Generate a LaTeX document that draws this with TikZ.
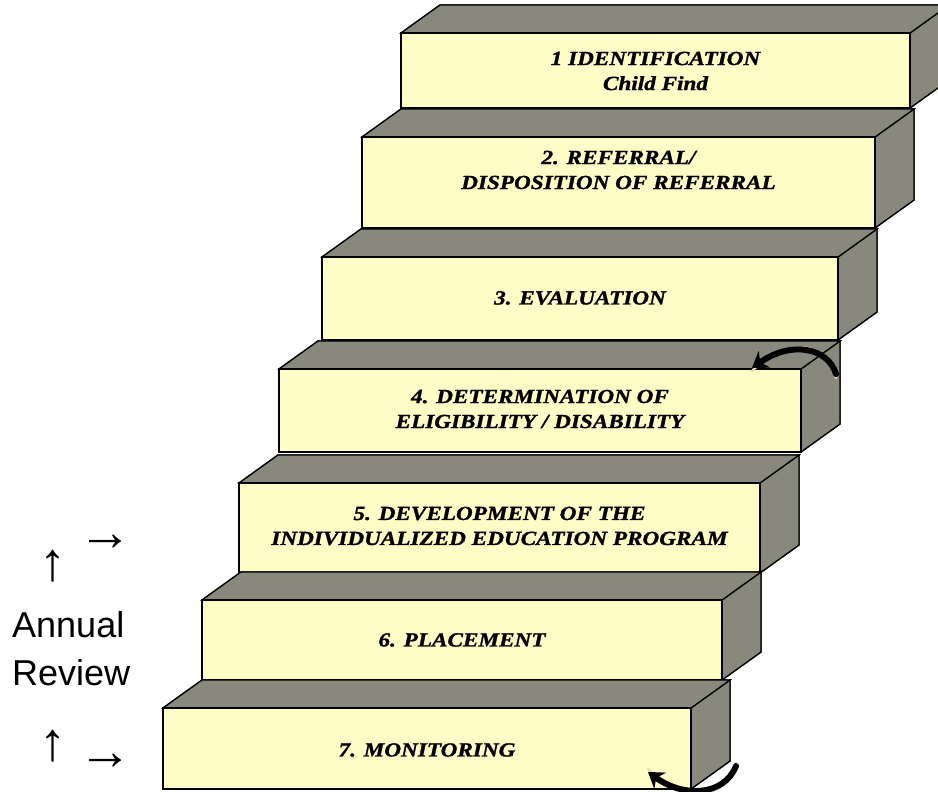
\documentclass[tikz,border=0pt]{standalone}
\usepackage{fontspec}
\setmainfont{Liberation Serif}
\newfontfamily\stepfont{Liberation Serif}[FakeStretch=1.16, FakeBold=1.3]
\newfontfamily\sansfnt{Liberation Sans}
\usetikzlibrary{arrows.meta}
\definecolor{facey}{RGB}{255,253,198}
\definecolor{faceg}{RGB}{136,136,124}
\definecolor{curlhi}{RGB}{238,218,165}
\tikzset{
  frontface/.style={fill=facey, draw=black, line width=1.3pt, line join=miter},
  sideface/.style={fill=faceg, draw=black, line width=1.3pt, line join=miter},
  steptext/.style={font=\stepfont\bfseries\itshape\fontsize{20}{25}\selectfont, align=center, text=black, inner sep=0pt},
  sidelabel/.style={font=\sansfnt\fontsize{36}{48}\selectfont, align=left, inner sep=0pt, anchor=base west},
  arrowglyph/.style={font=\sansfnt\fontsize{54}{58}\selectfont, inner sep=0pt},
  curlbody/.style={line width=6pt, black, line cap=round},
  curlhigh/.style={line width=2.4pt, curlhi, line cap=round},
}
% #1 name, #2 L, #3 R, #4 T, #5 B, #6 text y, #7 text
\newcommand\drawstairstep[7]{%
  \fill[sideface] ({#2},{#4}) -- ({#2+39},{#4-28}) -- ({#3+39},{#4-28}) -- ({#3},{#4}) -- cycle;
  \fill[sideface] ({#3},{#4}) -- ({#3+39},{#4-28}) -- ({#3+39},{#5-28}) -- ({#3},{#5}) -- cycle;
  \draw[sideface] ({#2},{#4}) -- ({#2+39},{#4-28}) -- ({#3+39},{#4-28}) -- ({#3},{#4});
  \draw[sideface] ({#3+39},{#4-28}) -- ({#3+39},{#5-28}) -- ({#3},{#5});
  \draw[frontface] ({#2},{#4}) rectangle ({#3},{#5});
  \node[steptext] (#1) at ({(#2+#3)/2},{#6}) {#7};
}
\begin{document}
\begin{tikzpicture}[x=1pt, y=-1pt]
\useasboundingbox (0,0) rectangle (938,792);
\clip (0,0) rectangle (938,792);
\drawstairstep{s1}{401}{910}{33}{108}{71}{1 IDENTIFICATION\\Child Find}
\drawstairstep{s2}{362}{875}{137}{228}{170}{2. REFERRAL/\\DISPOSITION OF REFERRAL}
\drawstairstep{s3}{322}{838}{257}{340}{298}{3. EVALUATION}
\drawstairstep{s4}{279}{801}{369}{452}{409}{4. DETERMINATION OF\\ELIGIBILITY / DISABILITY}
\drawstairstep{s5}{239}{760}{483}{573}{526}{5. DEVELOPMENT OF THE\\INDIVIDUALIZED EDUCATION PROGRAM}
\drawstairstep{s6}{202}{722}{600}{680}{640}{6. PLACEMENT}
\drawstairstep{s7}{163}{691}{708}{789}{750}{7. MONITORING}

% curled arrow near step 3/4
\coordinate (c1tail) at (836,374);
\coordinate (c1head) at (752,368);
\draw[curlhigh] ([yshift=-4pt]c1tail) .. controls (826,342) and (790,335) .. ([yshift=-3pt]c1head);
\draw[curlbody, -{Stealth[length=15pt,width=20pt]}] (c1tail) .. controls (828,348) and (792,340) .. (c1head);

% curled arrow at bottom
\coordinate (c2tail) at (736,766);
\coordinate (c2head) at (648,772);
\draw[curlhigh] ([yshift=3pt]c2tail) .. controls (722,800) and (680,800) .. ([yshift=3pt]c2head);
\draw[curlbody, -{Stealth[length=15pt,width=20pt]}] (c2tail) .. controls (724,796) and (684,798) .. (c2head);

% left labels
\node[sidelabel] (annual) at (12,637) {Annual};
\node[sidelabel] (review) at (12,685) {Review};
\node[arrowglyph] (up1) at (53,566) {↑};
\node[arrowglyph] (right1) at (105,543) {→};
\node[arrowglyph] (up2) at (53,746) {↑};
\node[arrowglyph] (right2) at (105,762) {→};
\end{tikzpicture}
\end{document}
